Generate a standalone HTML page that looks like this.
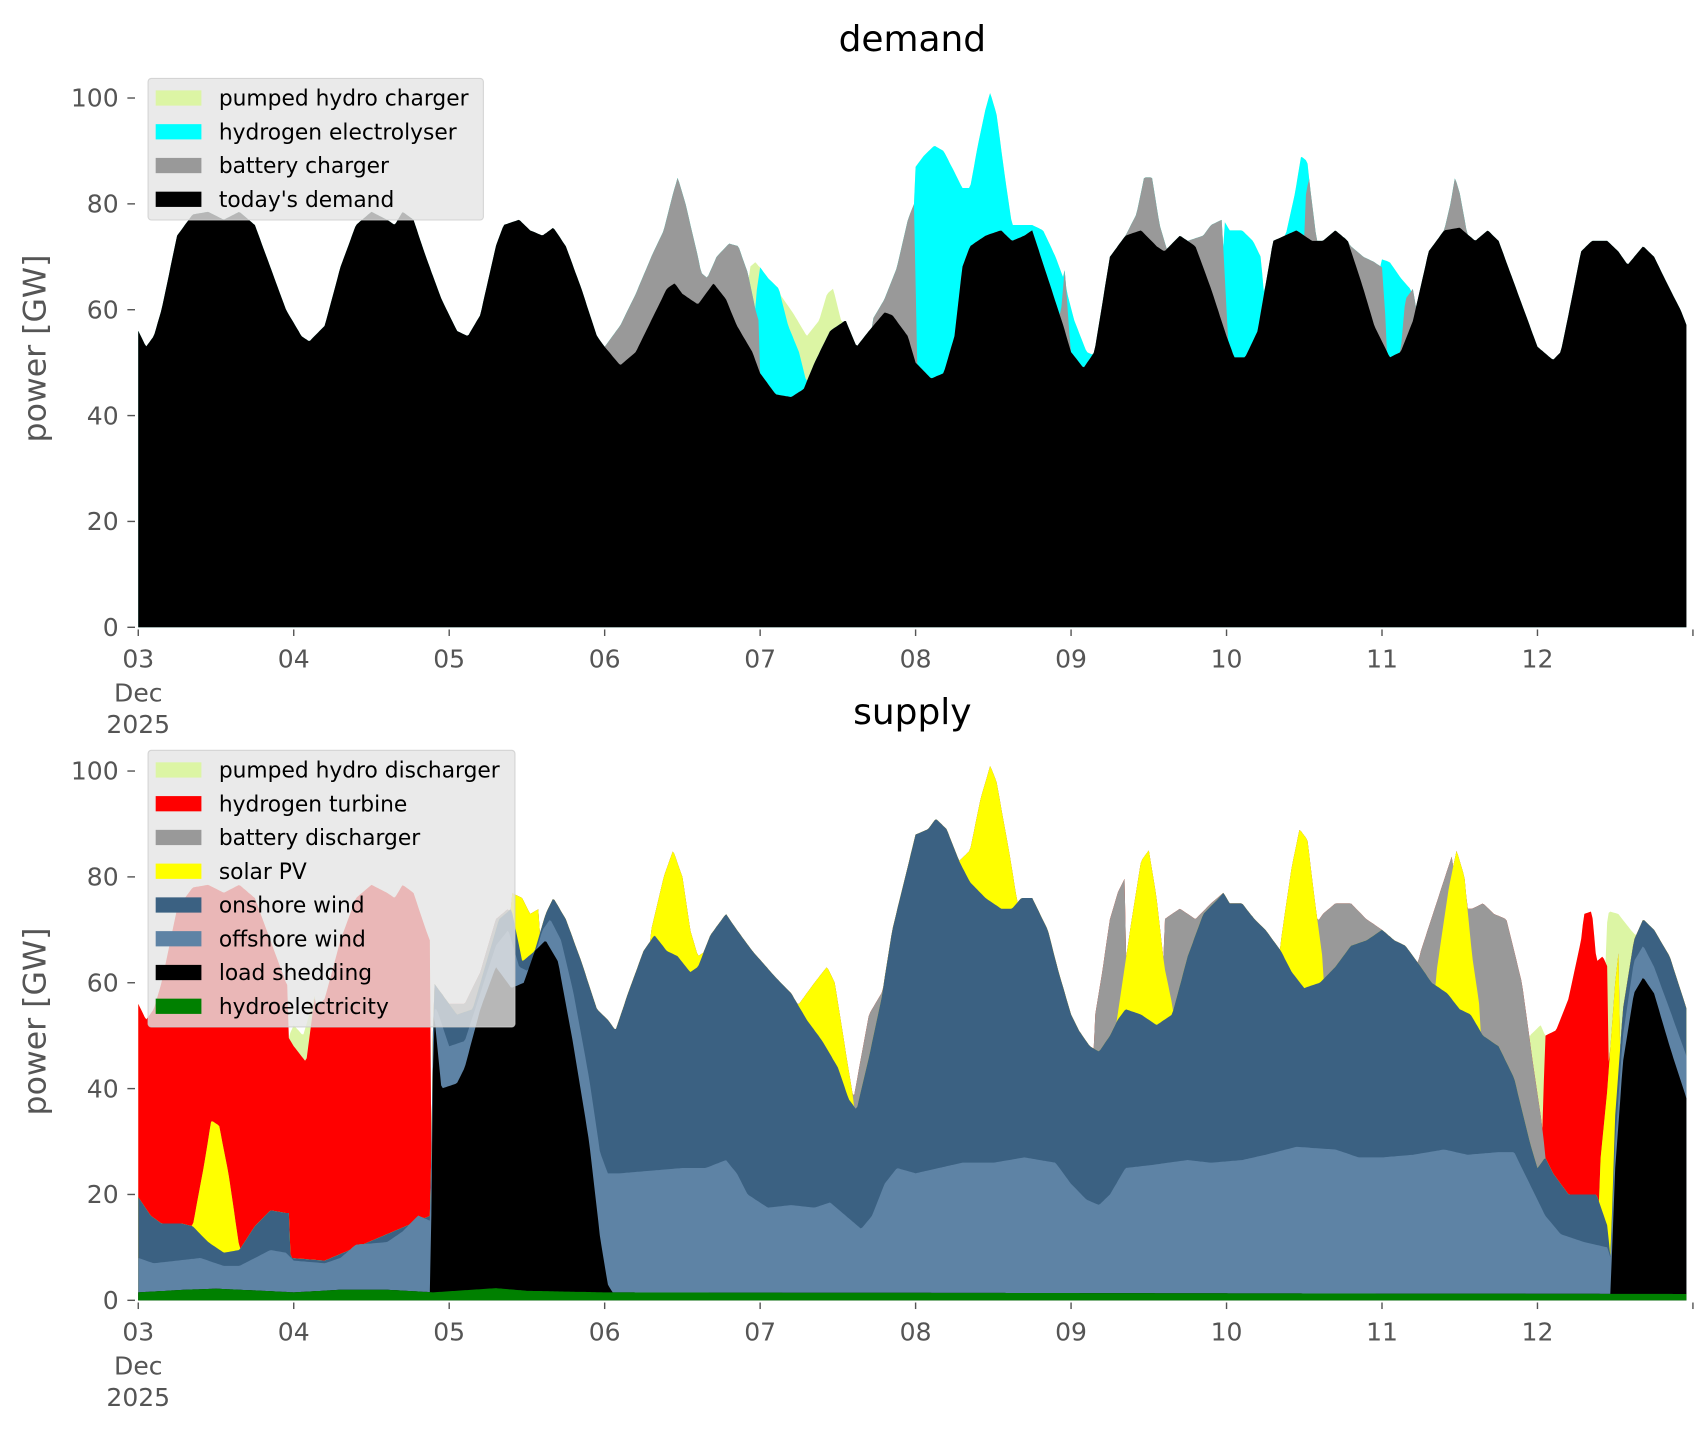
<!DOCTYPE html>
<html><head><meta charset="utf-8"><style>
html,body{margin:0;padding:0;background:#fff;}
svg{display:block;}
text{font-family:"DejaVu Sans","Liberation Sans",sans-serif;}
</style></head><body>
<svg id="s" width="1706" height="1431" viewBox="0 0 1567 1314" preserveAspectRatio="none" xmlns="http://www.w3.org/2000/svg"></svg>
<script>
const S=document.getElementById('s');
const NS='http://www.w3.org/2000/svg';
function el(t,a,txt){const e=document.createElementNS(NS,t);for(const k in a)e.setAttribute(k,a[k]);if(txt!==undefined)e.textContent=txt;S.appendChild(e);return e;}
function interp(k,d){if(d<k[0]||d>k[k.length-2])return -Infinity;for(let i=0;i<k.length-2;i+=2){if(d>=k[i]&&d<=k[i+2]){const t=(d-k[i])/(k[i+2]-k[i]||1);return k[i+1]+t*(k[i+3]-k[i+1]);}}return -Infinity;}
function bmax(list,d){let m=-Infinity;for(const k of list)m=Math.max(m,interp(k,d));return m;}
const D=[3.0,56,3.05,53,3.1,55,3.15,60,3.25,74,3.35,78,3.45,78.5,3.55,77,3.65,78.5,3.75,76,3.85,68,3.95,60,4.05,55,4.1,54,4.2,57,4.3,68,4.4,76,4.5,78.5,4.6,77,4.65,76,4.7,78.5,4.77,77,4.85,70,4.95,62,5.05,56,5.12,55,5.2,59,5.3,72,5.35,76,5.45,77,5.52,75,5.6,74,5.67,75.5,5.75,72,5.85,64,5.95,55,6.0,53,6.1,49.5,6.2,52,6.3,58,6.4,64,6.45,65,6.5,63,6.6,61,6.7,65,6.78,62,6.85,57,6.95,52,7.0,48,7.1,44,7.2,43.5,7.28,45,7.35,50,7.45,56,7.55,58,7.62,53,7.7,56,7.8,59.5,7.85,59,7.95,55,8.0,50,8.1,47,8.18,48,8.25,55,8.3,68,8.35,72,8.45,74,8.55,75,8.62,73,8.7,74,8.75,75,8.85,66,8.95,57,9.0,52,9.08,49,9.15,52,9.25,70,9.35,74,9.45,75,9.55,72,9.6,71,9.7,74,9.8,72,9.9,64,10.0,55,10.05,51,10.12,51,10.2,56,10.3,73,10.45,75,10.55,73,10.62,73,10.7,75,10.78,73,10.88,64,10.95,57,11.05,51,11.12,52,11.2,58,11.3,71,11.4,75,11.5,75.5,11.6,73,11.68,75,11.75,73,11.85,65,11.95,57,12.0,53,12.1,50.5,12.15,52,12.22,62,12.28,71,12.35,73,12.45,73,12.52,71,12.58,68.5,12.68,72,12.75,70,12.85,64,12.92,60,12.96,57];
const G=[[6.0,53,6.1,57,6.2,63,6.3,70,6.38,75,6.44,82,6.47,85,6.52,80,6.6,70,6.62,67,6.66,66,6.72,70,6.8,72.5,6.86,72,6.92,67,6.97,60,7.0,57],
[7.72,58,7.8,62,7.88,68,7.95,77,7.99,80,8.01,50],[8.93,58,8.96,68,8.99,55],[9.35,74,9.42,78,9.47,85,9.52,85,9.57,76,9.62,71],
[9.75,73,9.85,74,9.9,76,9.97,77,10.0,60],[10.5,80,10.53,85,10.58,73],[10.75,74,10.8,72,10.88,70,10.95,69,11.0,68,11.03,55],
[11.12,52,11.15,62,11.2,64,11.22,60,11.25,64],[11.4,75,11.44,80,11.47,85,11.5,82,11.55,74]];
const C=[[6.97,62,7.0,68,7.05,66,7.12,64,7.18,57,7.25,52,7.3,46],
[7.99,78,8.0,87,8.05,89,8.12,91,8.18,90,8.25,86,8.3,83,8.35,83,8.4,91,8.45,98,8.48,101,8.52,97,8.58,84,8.62,76,8.7,76,8.75,76,8.82,75,8.9,70,8.95,66,9.02,58,9.1,52,9.18,51,9.2,52],
[9.98,77,10.02,75,10.1,75,10.17,73,10.22,70,10.25,60],[10.38,74,10.44,82,10.48,89,10.52,88,10.55,74],[10.99,60,11.0,69.5,11.05,69,11.12,66,11.18,64,11.2,55]];
const P=[[6.93,68,6.97,69,7.05,66,7.15,62,7.22,59,7.3,55,7.38,58,7.43,63,7.47,64,7.52,58,7.56,57]];
const fD=d=>interp(D,d), fG=d=>Math.max(fD(d),bmax(G,d)), fC=d=>Math.max(fG(d),bmax(C,d)), fP=d=>Math.max(fC(d),bmax(P,d));
const H=[3,1.5,3.3,2,3.5,2.2,3.8,1.8,4.0,1.5,4.3,2,4.6,2,4.9,1.5,5.3,2.3,5.5,1.8,6,1.5,12.96,1.2];
const L=[[4.88,1.5,4.9,55,4.95,40,5.05,41,5.1,44,5.2,55,5.3,63,5.4,59,5.48,60,5.55,66,5.62,68,5.7,64,5.8,48,5.9,30,5.97,12,6.02,3,6.05,1.5],
[12.47,1.5,12.5,25,12.55,45,12.62,58,12.68,61,12.75,58,12.85,48,12.96,38]];
const O=[3.0,8,3.1,7,3.25,7.5,3.4,8,3.55,6.5,3.65,6.5,3.75,8,3.85,9.5,3.95,9,4.0,7.5,4.2,7,4.3,8,4.4,10.5,4.6,11,4.7,13,4.8,16,4.88,15,4.9,55,4.92,55,5.0,48,5.1,49,5.2,58,5.3,67,5.38,70,5.45,63,5.52,62,5.6,70,5.65,72,5.72,68,5.8,58,5.9,42,5.97,28,6.02,24,6.1,24,6.3,24.5,6.5,25,6.65,25,6.78,26.5,6.85,24,6.92,20,7.05,17.5,7.2,18,7.35,17.5,7.45,18.5,7.55,16,7.65,13.5,7.72,16,7.8,22,7.88,25,8.0,24,8.15,25,8.3,26,8.5,26,8.7,27,8.9,26,9.0,22,9.1,19,9.18,18,9.25,20,9.35,25,9.5,25.5,9.75,26.5,9.9,26,10.1,26.5,10.25,27.5,10.45,29,10.7,28.5,10.85,27,11.0,27,11.2,27.5,11.4,28.5,11.55,27.5,11.75,28,11.85,28,11.95,22,12.05,16,12.15,12.5,12.3,11,12.45,10,12.47,8,12.5,30,12.55,50,12.62,64,12.68,67,12.75,63,12.85,55,12.96,46];
const W=[3.0,19.5,3.08,16,3.15,14.5,3.28,14.5,3.35,14,3.45,11,3.55,9,3.65,9.5,3.75,14,3.85,17,3.95,16.5,3.97,16.5,3.98,8,4.2,7.5,4.88,16,4.9,60,4.95,58,5.05,54,5.15,55,5.25,65,5.32,72,5.4,74,5.47,64,5.55,66,5.62,73,5.67,76,5.75,72,5.85,64,5.95,55,6.02,53,6.07,51,6.15,58,6.25,66,6.32,69,6.4,66,6.47,65,6.55,62,6.6,63,6.68,69,6.78,73,6.85,70,6.95,66,7.1,61,7.2,58,7.3,53,7.4,49,7.5,44,7.57,38,7.62,36,7.7,46,7.78,57,7.85,70,7.95,82,8.0,88,8.08,89,8.13,91,8.2,89,8.28,83,8.35,79,8.45,76,8.55,74,8.62,74,8.68,76,8.75,76,8.85,70,8.92,62,9.0,54,9.05,51,9.12,48,9.18,47,9.25,50,9.3,53,9.35,55,9.45,54,9.55,52,9.65,54,9.75,65,9.85,73,9.95,76,9.98,77,10.02,75,10.1,75,10.18,72,10.25,70,10.35,66,10.42,62,10.5,59,10.6,60,10.7,63,10.8,67,10.9,68,11.0,70,11.08,68,11.15,67,11.25,63,11.32,60,11.42,58,11.5,55,11.57,54,11.65,50,11.75,48,11.85,42,11.95,30,12.0,25,12.05,27,12.1,24,12.2,20,12.3,20,12.38,20,12.45,14,12.47,8,12.5,35,12.55,55,12.62,68,12.68,72,12.75,70,12.85,65,12.96,55];
const SO=[[3.35,14,3.42,25,3.47,34,3.52,33,3.58,24,3.65,10],[5.4,77,5.47,76,5.52,73,5.58,74],[6.3,70,6.38,80,6.44,85,6.5,80,6.55,70,6.6,65,6.65,66],
[7.25,56,7.35,60,7.43,63,7.48,60,7.55,47,7.6,38],[8.28,83,8.35,85,8.42,95,8.48,101,8.52,98,8.6,85,8.65,76],[9.3,54,9.38,70,9.45,83,9.5,85,9.55,76,9.6,63,9.65,56],
[10.35,68,10.42,82,10.47,89,10.52,87,10.57,75,10.62,64],[11.35,62,11.43,78,11.48,85,11.53,80,11.58,65,11.63,55],[12.4,25,12.45,40,12.5,60,12.53,68]];
const BA=[[4.93,58,5.0,56,5.1,56,5.2,62,5.3,72,5.38,74],[7.6,38,7.7,54,7.8,59,7.85,59,7.9,65],[9.15,53,9.2,62,9.25,72,9.3,77,9.35,80],[9.6,72,9.7,74,9.8,72,9.9,75,9.98,77],
[10.55,70,10.62,73,10.7,75,10.8,75,10.9,72,11.0,70],[11.2,60,11.25,66,11.35,75,11.45,84],[11.55,74,11.58,74,11.65,75,11.72,73,11.8,72,11.9,60,11.97,45,12.02,35,12.05,28]];
const RD=[[12.03,30,12.05,50,12.12,51,12.2,57,12.28,68,12.3,73,12.35,73.5,12.38,64,12.42,65,12.45,63,12.47,20]];
const PH=[[3.96,40,3.97,50,4.0,52,4.06,50,4.12,56,4.14,58],[11.9,40,11.95,50,12.02,52,12.05,50],[12.44,70,12.46,73.5,12.52,73,12.6,70,12.66,68]];
const fH=d=>interp(H,d), fL=d=>Math.max(fH(d),bmax(L,d)), fO=d=>Math.max(fL(d),interp(O,d)), fW=d=>Math.max(fO(d),interp(W,d)),
fS=d=>Math.max(fW(d),bmax(SO,d)), fB=d=>Math.max(fS(d),bmax(BA,d)),
fR=d=>{let r=-Infinity;if(d>=3&&d<=4.88){r=fP(d);if(d>3.96&&d<4.14)r=interp([3.96,50,4.0,48,4.08,45,4.12,54,4.14,58],d);}return Math.max(fB(d),r,bmax(RD,d));},
fE=d=>Math.max(fR(d),bmax(PH,d));
const X=d=>127+(d-3)*142.8;
function area(f,y0,col){let pts=[];const step=1/96;pts.push(X(3)+','+y0);for(let d=3;d<=12.9584;d+=step){let v=f(d);if(!isFinite(v))v=0;pts.push(X(d).toFixed(1)+','+(y0-4.86*v).toFixed(1));}pts.push(X(12.958)+','+y0);el('polygon',{points:pts.join(' '),fill:col});}
area(fP,576,'#dcf5a4');area(fC,576,'#00ffff');area(fG,576,'#999999');area(fD,576,'#000000');
area(fE,1194,'#dcf5a4');area(fR,1194,'#ff0000');area(fB,1194,'#999999');area(fS,1194,'#ffff00');area(fW,1194,'#3b6182');area(fO,1194,'#5e83a5');area(fL,1194,'#000000');area(fH,1194,'#008000');
function axes(y0,title,ty){
 el('text',{x:838,y:ty,'font-size':33,'text-anchor':'middle',fill:'#000'},title);
 for(let v=0;v<=100;v+=20){const y=y0-4.86*v;el('line',{x1:117,x2:124,y1:y,y2:y,stroke:'#555','stroke-width':1.3});el('text',{x:109,y:y+8,'font-size':23,'text-anchor':'end',fill:'#555'},String(v));}
 for(let i=0;i<=10;i++){const x=127+i*142.8;el('line',{x1:x,x2:x,y1:y0+2,y2:y0+8,stroke:'#555','stroke-width':1.3});if(i<10)el('text',{x:x,y:y0+37,'font-size':23,'text-anchor':'middle',fill:'#555'},String(3+i).padStart(2,'0'));}
 el('text',{x:127,y:y0+68,'font-size':23,'text-anchor':'middle',fill:'#555'},'Dec');
 el('text',{x:127,y:y0+97,'font-size':23,'text-anchor':'middle',fill:'#555'},'2025');
 el('text',{x:42,y:y0-256,'font-size':29,'text-anchor':'middle',fill:'#555',transform:`rotate(-90 42 ${y0-256})`},'power [GW]');
}
axes(576,'demand',47);axes(1194,'supply',665);
function legend(x,y,w,items){el('rect',{x:x,y:y,width:w,height:items.length*31+6,rx:3,fill:'rgba(229,229,229,0.8)',stroke:'rgba(204,204,204,0.8)'});
 items.forEach((it,i)=>{const cy=y+18+i*31;el('rect',{x:x+7,y:cy-7,width:42,height:14,fill:it[1]});el('text',{x:x+65,y:cy+7,'font-size':20,fill:'#000'},it[0]);});}
legend(136,72,308,[['pumped hydro charger','#dcf5a4'],['hydrogen electrolyser','#00ffff'],['battery charger','#999999'],["today's demand",'#000000']]);
legend(136,689,337,[['pumped hydro discharger','#dcf5a4'],['hydrogen turbine','#ff0000'],['battery discharger','#999999'],['solar PV','#ffff00'],['onshore wind','#3b6182'],['offshore wind','#5e83a5'],['load shedding','#000000'],['hydroelectricity','#008000']]);
</script>
</body></html>
